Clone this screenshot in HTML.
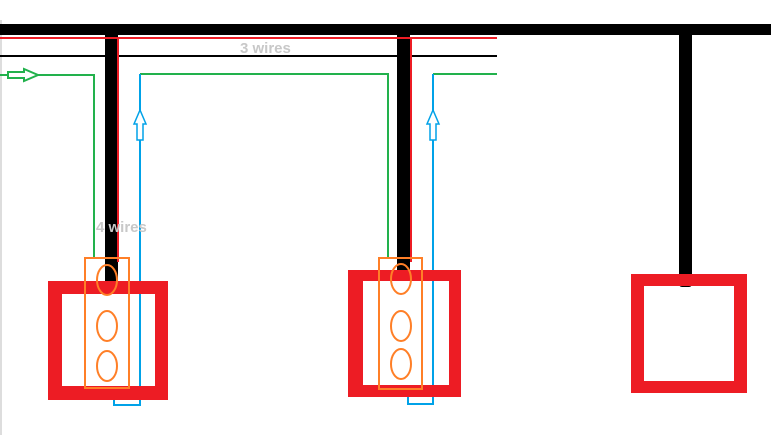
<!DOCTYPE html>
<html><head><style>body{margin:0;background:#fff}</style></head><body>
<svg width="771" height="435" viewBox="0 0 771 435" xmlns="http://www.w3.org/2000/svg" style="display:block">
<rect x="0" y="0" width="771" height="435" fill="#fff"/>
<line x1="1" y1="20" x2="1" y2="435" stroke="#ddd" stroke-width="2"/>
<!-- top bar -->
<rect x="0" y="24" width="771" height="11" fill="#000"/>
<!-- poles -->
<rect x="105" y="30" width="13" height="252" fill="#000"/>
<rect x="397" y="30" width="13" height="240" fill="#000"/>
<rect x="679" y="30" width="13" height="257" rx="3" fill="#000"/>
<!-- red and black lines -->
<line x1="0" y1="38" x2="497" y2="38" stroke="#ed1c24" stroke-width="2"/>
<line x1="0" y1="56" x2="497" y2="56" stroke="#000" stroke-width="2"/>
<line x1="118" y1="38" x2="118" y2="262" stroke="#ed1c24" stroke-width="2"/>
<line x1="411" y1="38" x2="411" y2="262" stroke="#ed1c24" stroke-width="2"/>
<text x="240" y="53" font-family="Liberation Sans, sans-serif" font-weight="bold" font-size="15" fill="#c8c8c8">3 wires</text>
<!-- green -->
<polyline points="0,75 94,75 94,258" fill="none" stroke="#22b14c" stroke-width="2"/>
<polyline points="140,74 388,74 388,258" fill="none" stroke="#22b14c" stroke-width="2"/>
<line x1="433" y1="74" x2="497" y2="74" stroke="#22b14c" stroke-width="2"/>
<polygon points="8,72 24,72 24,69 38,75 24,81 24,78 8,78" fill="#fff" stroke="#22b14c" stroke-width="2"/>
<!-- blue -->
<polyline points="140,74 140,405 114,405 114,388" fill="none" stroke="#00a2e8" stroke-width="2"/>
<polyline points="433,74 433,404 408,404 408,389" fill="none" stroke="#00a2e8" stroke-width="2"/>
<polygon points="140,110 134,124 137,124 137,140 143,140 143,124 146,124" fill="#fff" stroke="#00a2e8" stroke-width="1.5"/>
<polygon points="433,110 427,124 430,124 430,140 436,140 436,124 439,124" fill="#fff" stroke="#00a2e8" stroke-width="1.5"/>
<text x="96" y="232" font-family="Liberation Sans, sans-serif" font-weight="bold" font-size="15" fill="#c8c8c8">4 wires</text>
<!-- red boxes -->
<path d="M48,281H168V400H48Z M62,294V386H155V294Z" fill="#ed1c24" fill-rule="evenodd"/>
<path d="M348,270H461V397H348Z M363,281V385H449V281Z" fill="#ed1c24" fill-rule="evenodd"/>
<path d="M631,274H747V393H631Z M644,286V381H734V286Z" fill="#ed1c24" fill-rule="evenodd"/>
<!-- orange switches -->
<g fill="none" stroke="#ff7f27" stroke-width="2">
<rect x="85" y="258" width="44" height="130"/>
<ellipse cx="107" cy="280" rx="10" ry="15"/>
<ellipse cx="107" cy="326" rx="10" ry="15"/>
<ellipse cx="107" cy="366" rx="10" ry="15"/>
<rect x="379" y="258" width="43" height="131"/>
<ellipse cx="401" cy="279" rx="10" ry="15"/>
<ellipse cx="401" cy="326" rx="10" ry="15"/>
<ellipse cx="401" cy="364" rx="10" ry="15"/>
</g>
</svg>
</body></html>
